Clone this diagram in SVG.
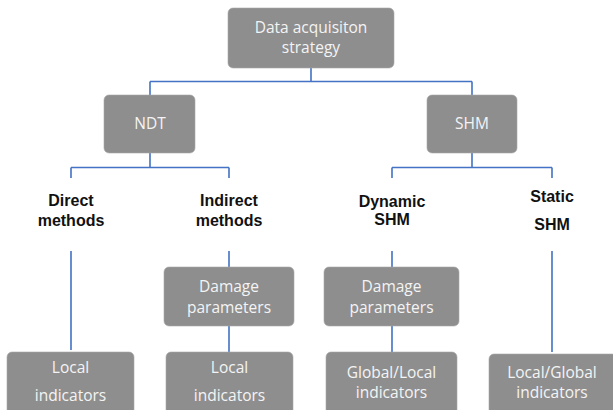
<svg xmlns="http://www.w3.org/2000/svg" width="613" height="410" viewBox="0 0 613 410">
<style>
.box{fill:#8e8e8e;stroke:#a8a8a8;stroke-width:0.6}
.bt{font-family:"Open Sans","Liberation Sans",sans-serif;font-size:15.5px;fill:#f4f4f4;text-anchor:middle}
.lb{font-family:"Liberation Sans",Arial,sans-serif;font-size:16px;font-weight:bold;fill:#111;text-anchor:middle}
.c{fill:none;stroke:#4472c4;stroke-width:1.6}
</style>
<rect width="613" height="410" fill="#fff"/>
<g id="connectors">
<path class="c" d="M311 68V81.5M150 81.5H472M150 81.5V95M472 81.5V95"/>
<path class="c" d="M150 153V167.5M71 167.5H229M71 167.5V178M229 167.5V178"/>
<path class="c" d="M472 153V167.5M392 167.5H552M392 167.5V178M552 167.5V178"/>
<path class="c" d="M71 251V350M229 251V267M392 251V267M552 251V352"/>
<path class="c" d="M229 326V352M392 326V352"/>
</g>
<g id="root"><rect class="box" x="228" y="8" width="166" height="60" rx="5"/><text class="bt" x="311" y="33">Data acquisiton</text><text class="bt" x="311" y="53">strategy</text></g>
<g id="ndt"><rect class="box" x="104" y="95" width="91" height="58" rx="5"/><text class="bt" x="150" y="129">NDT</text></g>
<g id="shm"><rect class="box" x="427" y="95" width="90" height="58" rx="5"/><text class="bt" x="472" y="129">SHM</text></g>
<g id="direct"><text class="lb" x="71" y="206">Direct</text><text class="lb" x="71" y="226">methods</text></g>
<g id="indirect"><text class="lb" x="229" y="206">Indirect</text><text class="lb" x="229" y="226">methods</text></g>
<g id="dynamic"><text class="lb" x="392" y="207">Dynamic</text><text class="lb" x="392" y="225">SHM</text></g>
<g id="static"><text class="lb" x="552" y="202">Static</text><text class="lb" x="552" y="230">SHM</text></g>
<g id="damage1"><rect class="box" x="164" y="267" width="130" height="59" rx="5"/><text class="bt" x="229" y="292">Damage</text><text class="bt" x="229" y="313">parameters</text></g>
<g id="damage2"><rect class="box" x="324" y="267" width="135" height="59" rx="5"/><text class="bt" x="391.5" y="292">Damage</text><text class="bt" x="391.5" y="313">parameters</text></g>
<g id="local1"><rect class="box" x="7" y="352" width="127" height="66" rx="5"/><text class="bt" x="70.5" y="373">Local</text><text class="bt" x="70.5" y="401">indicators</text></g>
<g id="local2"><rect class="box" x="166" y="352" width="127" height="66" rx="5"/><text class="bt" x="229.5" y="373">Local</text><text class="bt" x="229.5" y="401">indicators</text></g>
<g id="globallocal"><rect class="box" x="326" y="352" width="131" height="66" rx="5"/><text class="bt" x="391.5" y="378">Global/Local</text><text class="bt" x="391.5" y="398">indicators</text></g>
<g id="localglobal"><rect class="box" x="489" y="354" width="128" height="64" rx="5"/><text class="bt" x="552" y="378">Local/Global</text><text class="bt" x="552" y="398">indicators</text></g>
</svg>
